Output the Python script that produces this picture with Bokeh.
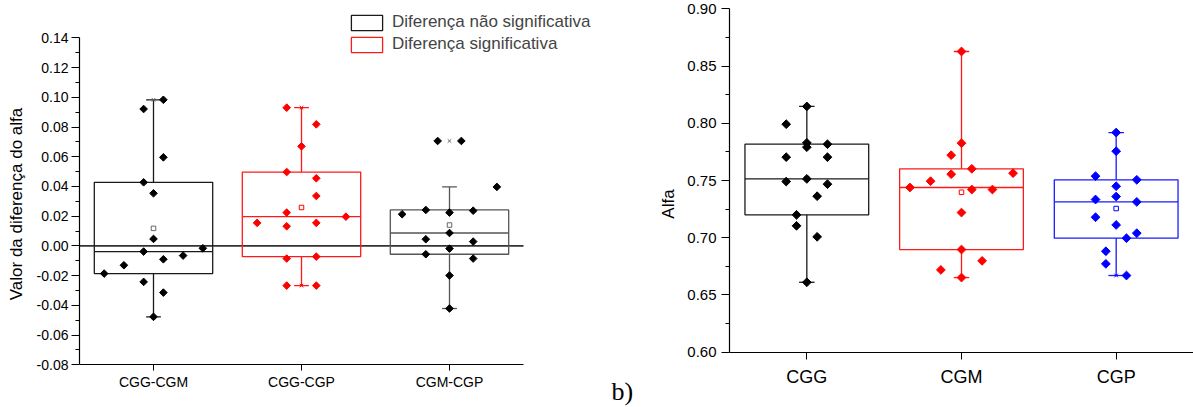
import numpy as np
from bokeh.plotting import figure
from bokeh.layouts import row
from bokeh.models import (ColumnDataSource, FixedTicker, PrintfTickFormatter, LinearAxis,
                          Label, Legend, LegendItem, Range1d)
from bokeh.embed import file_html
from bokeh.resources import INLINE

# ---------------------------------------------------------------- data
# Differences of alpha between pairs of groups
diff_labels = ["CGG-CGM", "CGG-CGP", "CGM-CGP"]
diff_significant = [False, True, False]
diff_cgg_cgm = [0.0983, 0.0921, 0.0596, 0.0428, 0.0354, 0.0047, -0.0038, -0.0016,
                -0.0065, -0.0090, -0.0130, -0.0186, -0.0242, -0.0314, -0.0477]
diff_cgg_cgp = [0.0930, 0.0818, 0.0670, 0.0497, 0.0455, 0.0336, 0.0224, 0.0197,
                0.0155, 0.0155, 0.0132, -0.0072, -0.0085, -0.0267, -0.0267]
diff_cgm_cgp = [0.0706, 0.0706, 0.0397, 0.0213, 0.0242, 0.0224, 0.0237, 0.0087,
                0.0045, 0.0029, -0.0018, -0.0056, -0.0085, -0.0199, -0.0421]

# Alpha per group
alpha_labels = ["CGG", "CGM", "CGP"]
alpha_cgg = [0.8147, 0.7992, 0.7829, 0.7791, 0.7817, 0.7704, 0.7704, 0.7491,
             0.7514, 0.7468, 0.7363, 0.7200, 0.7104, 0.7008, 0.6611]
alpha_cgm = [0.8627, 0.7826, 0.7721, 0.7602, 0.7555, 0.7564, 0.7494, 0.7439,
             0.7421, 0.7421, 0.7220, 0.6897, 0.6798, 0.6719, 0.6652]
alpha_cgp = [0.7919, 0.7756, 0.7538, 0.7506, 0.7450, 0.7360, 0.7334, 0.7313,
             0.7179, 0.7112, 0.7040, 0.6996, 0.6882, 0.6772, 0.6670]

legend_labels = ["Diferença não significativa", "Diferença significativa"]
diff_title = "Valor da diferença do alfa"
alpha_title = "Alfa"
panel_tag = "b)"

diff_yticks = np.round(np.arange(-0.08, 0.1401, 0.02), 2)
alpha_yticks = np.round(np.arange(0.60, 0.9001, 0.05), 2)

# ------------------------------------------------------- point spreading
# horizontal spread of the points of each box (slot index, slot width)
diff_spread = [
    ([1, -1, 1, -1, 0, 0, -1, 5, 3, 1, -3, -5, -1, 1, 0], 1 / 15),
    ([-1, 1, 0, -1, 1, 1, -1, 3, -3, 1, -1, 1, -1, -1, 1], 0.1),
    ([-1, 1, 4, -4, -2, 0, 2, 0, -2, 2, 0, -2, 2, 0, 0], 0.08),
]
alpha_spread = [
    ([0, -2, 0, 0, 2, -2, 2, -2, 0, 2, 1, -1, -1, 1, 0], 1 / 15),
    ([0, 0, -1, 1, -1, 5, -3, -5, 1, 3, 0, 0, 2, -2, 0], 1 / 15),
    ([0, 0, -2, 2, 0, 0, -2, 2, -2, 0, 2, 1, -1, -1, 1], 1 / 15),
]

FONT = "Liberation Sans"
CATS = [1, 2, 3]
X_LO, X_HI = 0.5, 3.5


def box_stats(vals):
    v = np.asarray(vals, dtype=float)
    q1, med, q3 = np.percentile(v, [25, 50, 75], method="weibull")
    iqr = q3 - q1
    lo = v[v >= q1 - 1.5 * iqr].min()
    hi = v[v <= q3 + 1.5 * iqr].max()
    return dict(q1=q1, med=med, q3=q3, lo=lo, hi=hi, mean=v.mean(), vmin=v.min(), vmax=v.max())


def style_axes(p, yticks, tick_size, cat_size, cat_names, x_tick_out, cat_standoff, y_standoff):
    minor = [(a + b) / 2 for a, b in zip(yticks[:-1], yticks[1:])]
    ya = p.yaxis[0]
    ya.ticker = FixedTicker(ticks=list(yticks), minor_ticks=minor)
    ya.formatter = PrintfTickFormatter(format="%.2f")
    ya.bounds = (float(yticks[0]), float(yticks[-1]))
    xa = p.xaxis[0]
    xa.ticker = FixedTicker(ticks=CATS, minor_ticks=[])
    xa.major_label_overrides = {c: n for c, n in zip(CATS, cat_names)}
    xa.bounds = (X_LO, X_HI)
    # the category axis sits on the lowest y tick
    xa.fixed_location = float(yticks[0])
    for ax in (xa, ya):
        ax.axis_line_color = "black"
        ax.axis_line_width = 1.2
        ax.major_tick_line_color = "black"
        ax.minor_tick_line_color = "black"
        ax.major_tick_in = 0
        ax.minor_tick_in = 0
        ax.major_label_text_font = FONT
        ax.major_label_text_color = "black"
    ya.major_tick_out = 8
    ya.minor_tick_out = 4
    ya.major_label_text_font_size = tick_size
    ya.major_label_standoff = y_standoff
    xa.major_tick_out = x_tick_out
    xa.major_label_text_font_size = cat_size
    xa.major_label_standoff = cat_standoff


def title_axis(p, text, center, standoff, size):
    """An axis that only carries a title, centred on a given y value."""
    ax = LinearAxis(ticker=FixedTicker(ticks=[], minor_ticks=[]), bounds=(center - 0.005, center + 0.005),
                    axis_line_alpha=0, major_tick_out=0, major_tick_in=0, minor_tick_out=0,
                    minor_tick_in=0, major_label_standoff=0, major_label_text_font_size="1px",
                    axis_label=text, axis_label_standoff=standoff, axis_label_text_font=FONT,
                    axis_label_text_font_size=size, axis_label_text_font_style="normal",
                    axis_label_text_color="black")
    p.add_layout(ax, "left")
    return ax


def draw_boxes(p, groups, spreads, box_colors, pt_colors, mark_colors, pt_size, line_w):
    st = [box_stats(g) for g in groups]
    half, cap = 0.4, 0.05
    box_src = ColumnDataSource(dict(
        left=[c - half for c in CATS], right=[c + half for c in CATS],
        top=[s["q3"] for s in st], bottom=[s["q1"] for s in st], color=box_colors))
    box_r = p.quad(left="left", right="right", top="top", bottom="bottom", source=box_src,
                   fill_color=None, line_color="color", line_width=line_w)
    # median lines
    p.segment(x0=[c - half for c in CATS], x1=[c + half for c in CATS],
              y0=[s["med"] for s in st], y1=[s["med"] for s in st],
              line_color=box_colors, line_width=line_w)
    # whiskers and caps
    p.segment(x0=CATS + CATS, x1=CATS + CATS,
              y0=[s["q3"] for s in st] + [s["q1"] for s in st],
              y1=[s["hi"] for s in st] + [s["lo"] for s in st],
              line_color=box_colors + box_colors, line_width=line_w)
    p.segment(x0=[c - cap for c in CATS] * 2, x1=[c + cap for c in CATS] * 2,
              y0=[s["hi"] for s in st] + [s["lo"] for s in st],
              y1=[s["hi"] for s in st] + [s["lo"] for s in st],
              line_color=box_colors + box_colors, line_width=line_w)
    # mean (open square) and extremes (x)
    p.scatter(x=CATS, y=[s["mean"] for s in st], marker="square", size=4.5,
              fill_color=None, line_color=mark_colors, line_width=1)
    p.scatter(x=CATS + CATS, y=[s["vmax"] for s in st] + [s["vmin"] for s in st],
              marker="x", size=5, line_color=mark_colors + mark_colors, line_width=1)
    # data points
    for c, g, (slots, w), col in zip(CATS, groups, spreads, pt_colors):
        xs = [c + k * w for k in slots]
        p.scatter(x=xs, y=g, marker="square", angle=np.pi / 4, size=pt_size,
                  fill_color=col, line_color=col, line_width=1)
    return box_r


def base_figure(width, x_end, y_range, border_left):
    p = figure(width=width, height=407, x_range=Range1d(X_LO, x_end), y_range=Range1d(*y_range),
               output_backend="svg", toolbar_location=None,
               min_border_left=border_left, min_border_right=0,
               min_border_top=0, min_border_bottom=0)
    p.xgrid.visible = False
    p.ygrid.visible = False
    p.outline_line_color = None
    p.background_fill_color = "white"
    p.border_fill_color = "white"
    return p


# ------------------------------------------------------------ left panel
left = base_figure(640, 0.5 + 561 / 148, (-0.1087, 0.1651), 79)
style_axes(left, diff_yticks, "14px", "14px", diff_labels, 6, 3, 3)
title_axis(left, diff_title, 0.0221, 8, "17px")

# zero reference line across the category axis
left.segment(x0=[X_LO], x1=[X_HI], y0=[0], y1=[0], line_color="#333333", line_width=1.6)

diff_box_colors = ["#1a1a1a" if not s else "#ff1a1a" for s in diff_significant]
diff_box_colors[2] = "#555555"
diff_pt_colors = ["red" if s else "black" for s in diff_significant]
diff_mark_colors = ["red" if s else "#666666" for s in diff_significant]
box_r = draw_boxes(left, [diff_cgg_cgm, diff_cgg_cgp, diff_cgm_cgp], diff_spread,
                   diff_box_colors, diff_pt_colors, diff_mark_colors, 5.4, 1.3)

legend = Legend(items=[LegendItem(label=legend_labels[0], renderers=[box_r], index=0),
                       LegendItem(label=legend_labels[1], renderers=[box_r], index=1)],
                location=(268, 353), orientation="vertical", padding=0, margin=0,
                spacing=2, glyph_width=39, glyph_height=19, label_standoff=6,
                label_height=19, label_text_font=FONT, label_text_font_size="17px",
                border_line_color=None, background_fill_alpha=0)
left.add_layout(legend)

left.add_layout(Label(x=0.5 + 532 / 148, y=-0.0980, text=panel_tag, text_align="left",
                      text_baseline="alphabetic", text_font="Liberation Serif",
                      text_font_size="26px", text_color="black"))

# ----------------------------------------------------------- right panel
right = base_figure(553, X_HI, (0.5517, 0.90725), 89)
style_axes(right, alpha_yticks, "15px", "18px", alpha_labels, 7, 8, 5)
title_axis(right, alpha_title, 0.7388, 7, "17px")

draw_boxes(right, [alpha_cgg, alpha_cgm, alpha_cgp], alpha_spread,
           ["#1a1a1a", "#ff1a1a", "#1a1aff"], ["black", "red", "blue"],
           ["#666666", "red", "blue"], 6.2, 1.3)

layout = row(left, right)
open("out.html", "w").write(file_html(layout, INLINE))
